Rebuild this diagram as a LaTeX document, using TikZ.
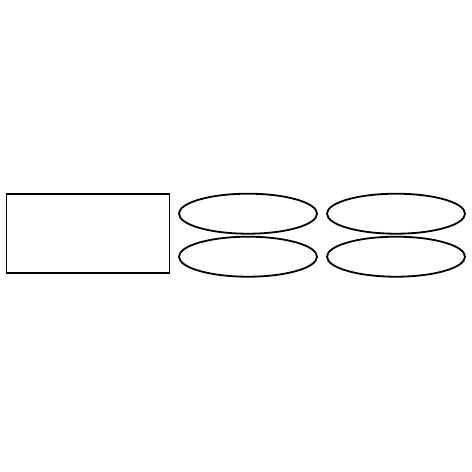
\documentclass[tikz,border=0pt]{standalone}
\usetikzlibrary{shapes.geometric}
\begin{document}
\begin{tikzpicture}[x=1pt,y=-1pt,
  box/.style={draw, line width=1.8pt, rectangle, inner sep=0pt, minimum width=163pt, minimum height=78.5pt},
  oval/.style={draw, line width=1.8pt, ellipse, inner sep=0pt, minimum width=138pt, minimum height=40pt}]
\useasboundingbox (0,0) rectangle (472,472);
\node[box] (r) at (88,233.5) {};
\node[oval] (e1) at (248,213.7) {};
\node[oval] (e2) at (248,256.7) {};
\node[oval] (e3) at (396,213.7) {};
\node[oval] (e4) at (396,256.7) {};
\end{tikzpicture}
\end{document}
